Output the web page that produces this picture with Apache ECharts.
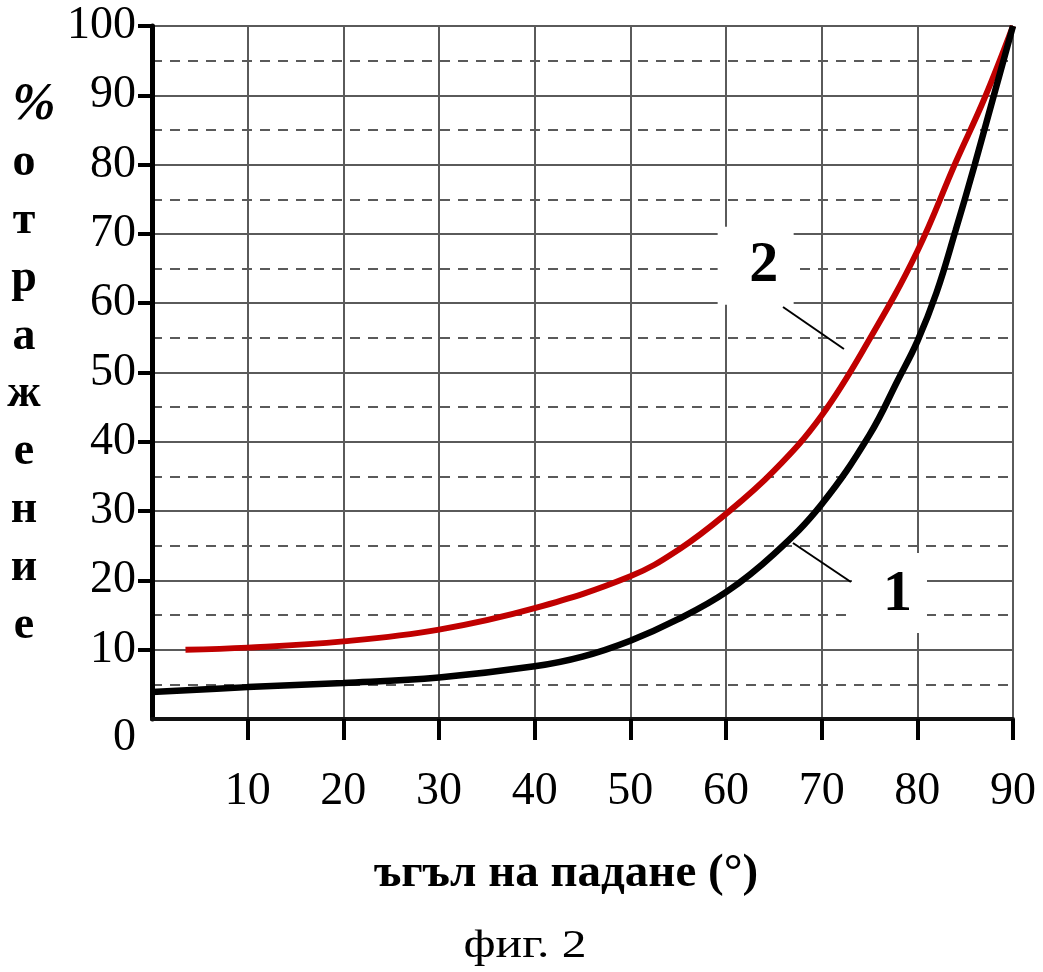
<!DOCTYPE html>
<html>
<head>
<meta charset="utf-8">
<script src="https://cdn.jsdelivr.net/npm/echarts@6/dist/echarts.min.js"></script>
<style>
  html, body { margin: 0; padding: 0; background: #fff; }
  #chart { width: 1043px; height: 972px; }
</style>
</head>
<body>
<div id="chart"></div>
<script>
"use strict";
// angle of incidence (deg) vs reflection (%)
var curve1Angles = [0, 10, 20, 30, 40, 45, 50, 55, 60, 65, 70, 75, 78, 80, 82, 84, 86, 88, 90];
var curve1Values = [3.9, 4.6, 5.2, 6.0, 7.6, 9.0, 11.3, 14.4, 18.3, 23.8, 31.0, 41.0, 49.0, 54.5, 61.5, 70.5, 80, 90, 100];
var curve2Angles = [3.5, 10, 20, 30, 40, 50, 55, 60, 65, 70, 75, 80, 84, 87, 90];
var curve2Values = [10.0, 10.3, 11.2, 12.9, 16.0, 20.6, 24.4, 29.6, 35.8, 43.8, 54.8, 67.5, 80.3, 89.5, 100];
var xTicks = [10, 20, 30, 40, 50, 60, 70, 80, 90];
var yTicks = [10, 20, 30, 40, 50, 60, 70, 80, 90, 100];
var yTitle = ['о', 'т', 'р', 'а', 'ж', 'е', 'н', 'и', 'е'];
var xTitle = 'ъгъл на падане (°)';
var caption = 'фиг. 2';

var serif = "'Liberation Serif', 'Times New Roman', serif";
var gridColor = '#5a5a5a';

function pairs(xs, ys) {
  return xs.map(function (x, i) { return [x, ys[i]]; });
}

var chart = echarts.init(document.getElementById('chart'));

var graphics = [{
  type: 'text', x: 34, y: 106,
  style: { text: '%', font: 'italic bold 52px ' + serif, fill: '#000', align: 'center', verticalAlign: 'middle' }
}];
yTitle.forEach(function (ch, i) {
  graphics.push({
    type: 'text', x: 24, y: 163 + i * 57.9,
    style: { text: ch, font: 'bold 46px ' + serif, fill: '#000', align: 'center', verticalAlign: 'middle' }
  });
});
graphics.push({
  type: 'text', x: 566, y: 874,
  style: { text: xTitle, font: 'bold 47px ' + serif, fill: '#000', align: 'center', verticalAlign: 'middle' }
});
graphics.push({
  type: 'text', x: 525, y: 946, scaleX: 1.24,
  style: { text: caption, font: '40px ' + serif, fill: '#000', align: 'center', verticalAlign: 'middle' }
});

var option = {
  animation: false,
  backgroundColor: '#fff',
  grid: { left: 152, right: 30, top: 26, bottom: 253, containLabel: false },
  xAxis: {
    type: 'value', min: 0, max: 90, interval: 10,
    axisLine: { show: true, lineStyle: { color: '#111', width: 4 } },
    axisTick: { show: true, customValues: xTicks, length: 21, lineStyle: { color: '#000', width: 4 } },
    axisLabel: { customValues: xTicks, margin: 50, fontSize: 46, fontFamily: serif, color: '#000' },
    splitLine: { show: true, lineStyle: { color: gridColor, width: 2 } }
  },
  yAxis: {
    type: 'value', min: 0, max: 100, interval: 10,
    axisLine: { show: true, lineStyle: { color: '#000', width: 5 } },
    axisTick: { show: true, customValues: yTicks, length: 14, lineStyle: { color: '#000', width: 4 } },
    axisLabel: {
      margin: 16, fontSize: 46, fontFamily: serif, color: '#000',
      formatter: function (v) { return v === 0 ? '{z|0}' : String(v); },
      rich: { z: { fontSize: 46, fontFamily: serif, color: '#000', padding: [38, 0, 0, 0] } }
    },
    splitLine: { show: true, lineStyle: { color: gridColor, width: 2 } },
    minorTick: { show: false, splitNumber: 2 },
    minorSplitLine: { show: true, lineStyle: { color: gridColor, width: 2, type: [10, 8] } }
  },
  graphic: graphics,
  series: [{
    name: '1', type: 'line', data: pairs(curve1Angles, curve1Values),
    smooth: 0.4, showSymbol: false, silent: true,
    lineStyle: { color: '#000', width: 6.5 }, z: 3,
    markLine: {
      silent: true, symbol: ['none', 'none'], label: { show: false },
      lineStyle: { color: '#000', width: 2, type: 'solid' },
      data: [[{ coord: [67.0, 25.4] }, { coord: [73.06, 19.77] }]]
    },
    markPoint: {
      silent: true, symbol: 'rect', symbolSize: [75, 80],
      itemStyle: { color: '#fff' },
      label: { show: true, formatter: '1', fontSize: 58, fontWeight: 'bold', fontFamily: serif, color: '#000', offset: [8, 2] },
      data: [{ coord: [77.09, 18.18] }]
    }
  }, {
    name: '2', type: 'line', data: pairs(curve2Angles, curve2Values),
    smooth: 0.4, showSymbol: false, silent: true,
    lineStyle: { color: '#c00000', width: 6 }, z: 2,
    markLine: {
      silent: true, symbol: ['none', 'none'], label: { show: false },
      lineStyle: { color: '#000', width: 2, type: 'solid' },
      data: [[{ coord: [65.96, 59.45] }, { coord: [72.33, 53.39] }]]
    },
    markPoint: {
      silent: true, symbol: 'rect', symbolSize: [76, 78],
      itemStyle: { color: '#fff' },
      label: { show: true, formatter: '2', fontSize: 58, fontWeight: 'bold', fontFamily: serif, color: '#000', offset: [8, 0] },
      data: [{ coord: [63.1, 65.4] }]
    }
  }]
};

chart.setOption(option);
</script>
</body>
</html>
